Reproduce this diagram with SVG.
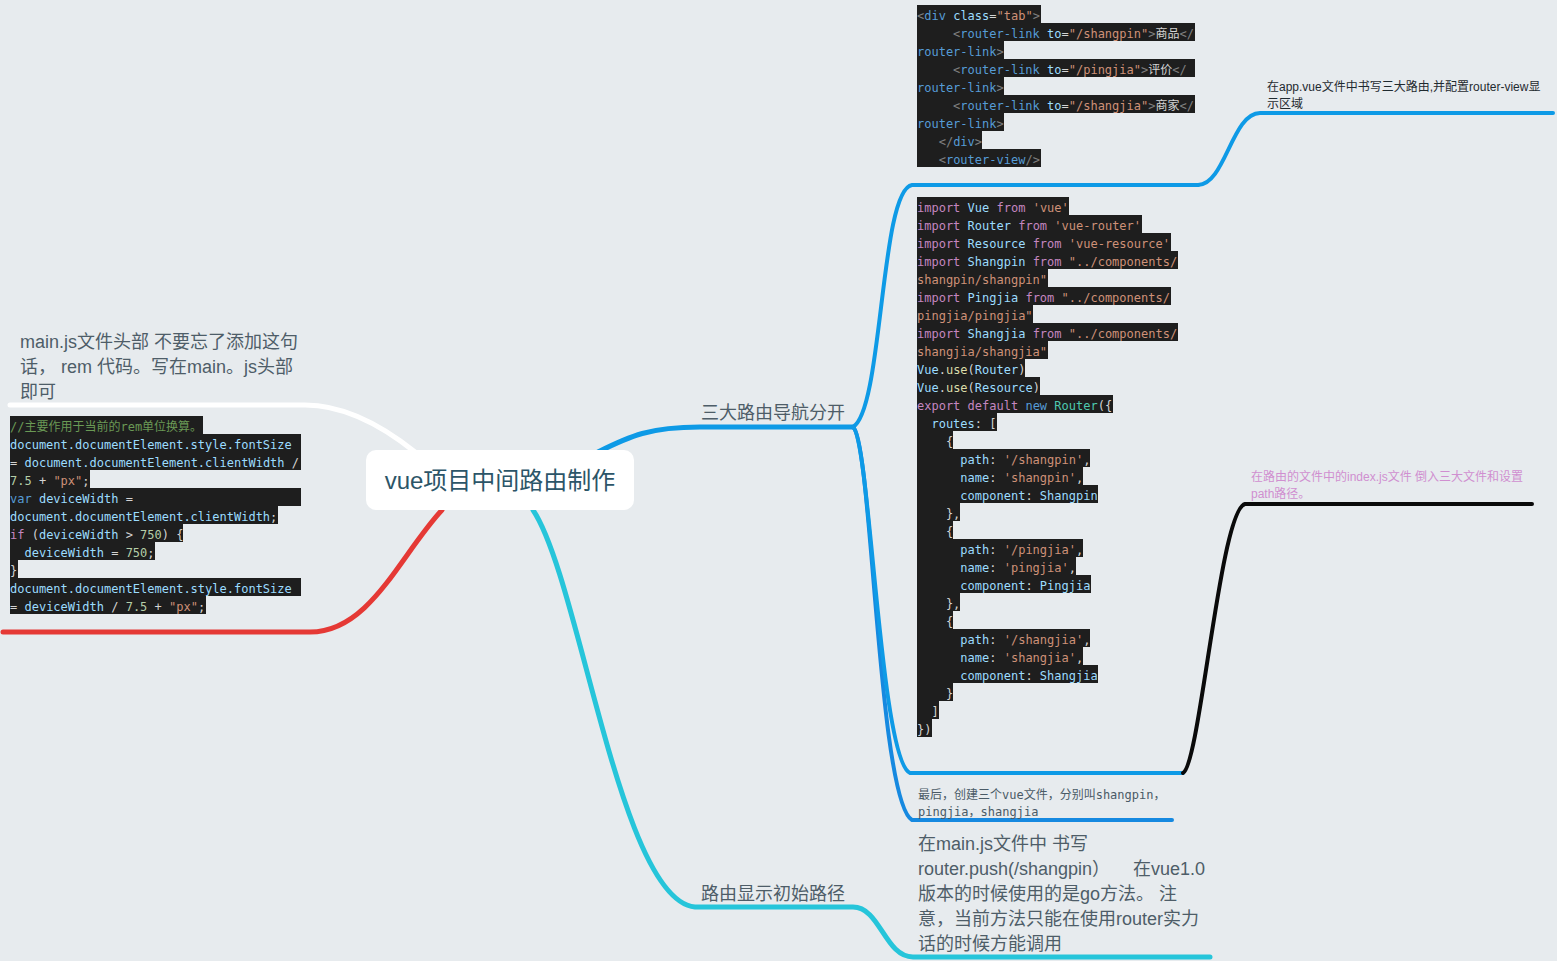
<svg xmlns="http://www.w3.org/2000/svg" width="1557" height="961" viewBox="0 0 1557 961">
<style>
.bgc{fill:#1e1e1e}
.code{font-family:"DejaVu Sans Mono","Noto Sans CJK SC",monospace;font-size:12px;fill:#d4d4d4}
.t{fill:#808080}.n{fill:#569cd6}.a{fill:#9cdcfe}.s{fill:#ce9178}.w{fill:#d4d4d4}
.k{fill:#c586c0}.f{fill:#dcdcaa}.c{fill:#4ec9b0}.m{fill:#b5cea8}.g{fill:#6a9955}
.lbl{font-family:"Liberation Sans","Noto Sans CJK SC",sans-serif;font-size:18px;fill:#4e5d68}
.small{font-family:"Liberation Sans","Noto Sans CJK SC",sans-serif;font-size:12px}
.ln{fill:none;stroke-linecap:round;stroke-linejoin:round}
</style>
<rect width="1557" height="961" fill="#e7ebee"/>

<g id="connectors">
  <path class="ln" d="M415,452 C385,428 345,405 305,405 L10,405" stroke="#ffffff" stroke-width="5"/>
  <path class="ln" d="M442,510 C400,555 370,632 310,632 L3,632" stroke="#e53935" stroke-width="5"/>
  <path class="ln" d="M598,452 C630,436 650,427 700,427 L853,427" stroke="#0e9ae6" stroke-width="5"/>
  <path class="ln" d="M853,427 C883,410 880,190 912,185 L1198,185" stroke="#0e9ae6" stroke-width="4"/>
  <path class="ln" d="M1198,185 C1225,185 1232,113 1260,113 L1553,113" stroke="#0e9ae6" stroke-width="4"/>
  <path class="ln" d="M853,427 C872,440 878,800 912,820 L1172,820" stroke="#1689e0" stroke-width="4"/>
  <path class="ln" d="M853,427 C870,440 880,760 910,773 L1183,773" stroke="#0e9ae6" stroke-width="4"/>
  <path class="ln" d="M1183,773 C1200,765 1220,510 1245,504 L1532,504" stroke="#0a0a0a" stroke-width="4"/>
  <path class="ln" d="M533,510 C580,580 620,900 695,907 L853,907 C880,907 885,957 913,957 L1210,957" stroke="#26c5da" stroke-width="5"/>
</g>

<g id="central">
  <rect x="366" y="450" width="268" height="60" rx="10" fill="#ffffff"/>
  <text x="500" y="489" text-anchor="middle" font-family="Liberation Sans,'Noto Sans CJK SC',sans-serif" font-size="24" fill="#2c5568">vue项目中间路由制作</text>
</g>

<g id="branch-routes">
  <text class="lbl" x="701" y="419">三大路由导航分开</text>
</g>

<g id="branch-initial">
  <text class="lbl" x="701" y="900">路由显示初始路径</text>
</g>

<g id="node-rem-note">
  <text class="lbl" x="20" y="348">main.js文件头部 不要忘了添加这句</text>
  <text class="lbl" x="20" y="373">话， rem 代码。写在main。js头部</text>
  <text class="lbl" x="20" y="398">即可</text>
</g>

<g id="node-rem-code">
  <rect class="bgc" x="10" y="416" width="193" height="18"/>
  <rect class="bgc" x="10" y="434" width="291" height="18"/>
  <rect class="bgc" x="10" y="452" width="291" height="18"/>
  <rect class="bgc" x="10" y="470" width="80" height="18"/>
  <rect class="bgc" x="10" y="488" width="291" height="18"/>
  <rect class="bgc" x="10" y="506" width="268" height="18"/>
  <rect class="bgc" x="10" y="524" width="173" height="18"/>
  <rect class="bgc" x="10" y="542" width="145" height="18"/>
  <rect class="bgc" x="10" y="560" width="8" height="18"/>
  <rect class="bgc" x="10" y="578" width="291" height="18"/>
  <rect class="bgc" x="10" y="596" width="196" height="18"/>
  <g transform="translate(0,2)">
  <text class="code" x="10" y="429"><tspan class="g">//主要作用于当前的rem单位换算。</tspan></text>
  <text class="code" x="10" y="447"><tspan class="a">document.documentElement.style.fontSize</tspan></text>
  <text class="code" x="10" y="465"><tspan class="w">=</tspan> <tspan class="a">document.documentElement.clientWidth</tspan> <tspan class="w">/</tspan></text>
  <text class="code" x="10" y="483"><tspan class="m">7.5</tspan> <tspan class="w">+</tspan> <tspan class="s">"px"</tspan><tspan class="w">;</tspan></text>
  <text class="code" x="10" y="501"><tspan class="n">var</tspan> <tspan class="a">deviceWidth</tspan> <tspan class="w">=</tspan></text>
  <text class="code" x="10" y="519"><tspan class="a">document.documentElement.clientWidth</tspan><tspan class="w">;</tspan></text>
  <text class="code" x="10" y="537"><tspan class="k">if</tspan> <tspan class="w">(</tspan><tspan class="a">deviceWidth</tspan> <tspan class="w">&gt;</tspan> <tspan class="m">750</tspan><tspan class="w">) {</tspan></text>
  <text class="code" x="24.45" y="555"><tspan class="a">deviceWidth</tspan> <tspan class="w">=</tspan> <tspan class="m">750</tspan><tspan class="w">;</tspan></text>
  <text class="code" x="10" y="573"><tspan class="w">}</tspan></text>
  <text class="code" x="10" y="591"><tspan class="a">document.documentElement.style.fontSize</tspan></text>
  <text class="code" x="10" y="609"><tspan class="w">=</tspan> <tspan class="a">deviceWidth</tspan> <tspan class="w">/</tspan> <tspan class="m">7.5</tspan> <tspan class="w">+</tspan> <tspan class="s">"px"</tspan><tspan class="w">;</tspan></text>
  </g>
</g>

<g id="node-app-code">
  <rect class="bgc" x="917" y="5" width="124" height="18"/>
  <rect class="bgc" x="917" y="23" width="278" height="18"/>
  <rect class="bgc" x="917" y="41" width="87" height="18"/>
  <rect class="bgc" x="917" y="59" width="278" height="18"/>
  <rect class="bgc" x="917" y="77" width="87" height="18"/>
  <rect class="bgc" x="917" y="95" width="278" height="18"/>
  <rect class="bgc" x="917" y="113" width="87" height="18"/>
  <rect class="bgc" x="917" y="131" width="65" height="18"/>
  <rect class="bgc" x="917" y="149" width="124" height="18"/>
  <g transform="translate(0,2)">
  <text class="code" x="917" y="18"><tspan class="t">&lt;</tspan><tspan class="n">div</tspan> <tspan class="a">class</tspan><tspan class="w">=</tspan><tspan class="s">"tab"</tspan><tspan class="t">&gt;</tspan></text>
  <text class="code" x="953.1" y="36"><tspan class="t">&lt;</tspan><tspan class="n">router-link</tspan> <tspan class="a">to</tspan><tspan class="w">=</tspan><tspan class="s">"/shangpin"</tspan><tspan class="t">&gt;</tspan><tspan class="w">商品</tspan><tspan class="t">&lt;/</tspan></text>
  <text class="code" x="917" y="54"><tspan class="n">router-link</tspan><tspan class="t">&gt;</tspan></text>
  <text class="code" x="953.1" y="72"><tspan class="t">&lt;</tspan><tspan class="n">router-link</tspan> <tspan class="a">to</tspan><tspan class="w">=</tspan><tspan class="s">"/pingjia"</tspan><tspan class="t">&gt;</tspan><tspan class="w">评价</tspan><tspan class="t">&lt;/</tspan></text>
  <text class="code" x="917" y="90"><tspan class="n">router-link</tspan><tspan class="t">&gt;</tspan></text>
  <text class="code" x="953.1" y="108"><tspan class="t">&lt;</tspan><tspan class="n">router-link</tspan> <tspan class="a">to</tspan><tspan class="w">=</tspan><tspan class="s">"/shangjia"</tspan><tspan class="t">&gt;</tspan><tspan class="w">商家</tspan><tspan class="t">&lt;/</tspan></text>
  <text class="code" x="917" y="126"><tspan class="n">router-link</tspan><tspan class="t">&gt;</tspan></text>
  <text class="code" x="938.7" y="144"><tspan class="t">&lt;/</tspan><tspan class="n">div</tspan><tspan class="t">&gt;</tspan></text>
  <text class="code" x="938.7" y="162"><tspan class="t">&lt;</tspan><tspan class="n">router-view</tspan><tspan class="t">/&gt;</tspan></text>
  </g>
</g>

<g id="node-app-note">
  <text class="small" x="1267" y="91" fill="#1f2a30">在app.vue文件中书写三大路由,并配置router-view显</text>
  <text class="small" x="1267" y="108" fill="#1f2a30">示区域</text>
</g>

<g id="node-index-code">
  <rect class="bgc" x="917" y="197" width="152" height="18"/>
  <rect class="bgc" x="917" y="215" width="225" height="18"/>
  <rect class="bgc" x="917" y="233" width="254" height="18"/>
  <rect class="bgc" x="917" y="251" width="261" height="18"/>
  <rect class="bgc" x="917" y="269" width="131" height="18"/>
  <rect class="bgc" x="917" y="287" width="254" height="18"/>
  <rect class="bgc" x="917" y="305" width="116" height="18"/>
  <rect class="bgc" x="917" y="323" width="261" height="18"/>
  <rect class="bgc" x="917" y="341" width="131" height="18"/>
  <rect class="bgc" x="917" y="359" width="108" height="18"/>
  <rect class="bgc" x="917" y="377" width="123" height="18"/>
  <rect class="bgc" x="917" y="395" width="196" height="18"/>
  <rect class="bgc" x="917" y="413" width="80" height="18"/>
  <rect class="bgc" x="917" y="431" width="36" height="18"/>
  <rect class="bgc" x="917" y="449" width="173" height="18"/>
  <rect class="bgc" x="917" y="467" width="166" height="18"/>
  <rect class="bgc" x="917" y="485" width="181" height="18"/>
  <rect class="bgc" x="917" y="503" width="43" height="18"/>
  <rect class="bgc" x="917" y="521" width="36" height="18"/>
  <rect class="bgc" x="917" y="539" width="166" height="18"/>
  <rect class="bgc" x="917" y="557" width="159" height="18"/>
  <rect class="bgc" x="917" y="575" width="174" height="18"/>
  <rect class="bgc" x="917" y="593" width="43" height="18"/>
  <rect class="bgc" x="917" y="611" width="36" height="18"/>
  <rect class="bgc" x="917" y="629" width="173" height="18"/>
  <rect class="bgc" x="917" y="647" width="166" height="18"/>
  <rect class="bgc" x="917" y="665" width="181" height="18"/>
  <rect class="bgc" x="917" y="683" width="36" height="18"/>
  <rect class="bgc" x="917" y="701" width="22" height="18"/>
  <rect class="bgc" x="917" y="719" width="15" height="18"/>
  <g transform="translate(0,2)">
  <text class="code" x="917" y="210"><tspan class="k">import</tspan> <tspan class="a">Vue</tspan> <tspan class="k">from</tspan> <tspan class="s">'vue'</tspan></text>
  <text class="code" x="917" y="228"><tspan class="k">import</tspan> <tspan class="a">Router</tspan> <tspan class="k">from</tspan> <tspan class="s">'vue-router'</tspan></text>
  <text class="code" x="917" y="246"><tspan class="k">import</tspan> <tspan class="a">Resource</tspan> <tspan class="k">from</tspan> <tspan class="s">'vue-resource'</tspan></text>
  <text class="code" x="917" y="264"><tspan class="k">import</tspan> <tspan class="a">Shangpin</tspan> <tspan class="k">from</tspan> <tspan class="s">"../components/</tspan></text>
  <text class="code" x="917" y="282"><tspan class="s">shangpin/shangpin"</tspan></text>
  <text class="code" x="917" y="300"><tspan class="k">import</tspan> <tspan class="a">Pingjia</tspan> <tspan class="k">from</tspan> <tspan class="s">"../components/</tspan></text>
  <text class="code" x="917" y="318"><tspan class="s">pingjia/pingjia"</tspan></text>
  <text class="code" x="917" y="336"><tspan class="k">import</tspan> <tspan class="a">Shangjia</tspan> <tspan class="k">from</tspan> <tspan class="s">"../components/</tspan></text>
  <text class="code" x="917" y="354"><tspan class="s">shangjia/shangjia"</tspan></text>
  <text class="code" x="917" y="372"><tspan class="a">Vue</tspan><tspan class="w">.</tspan><tspan class="f">use</tspan><tspan class="w">(</tspan><tspan class="a">Router</tspan><tspan class="w">)</tspan></text>
  <text class="code" x="917" y="390"><tspan class="a">Vue</tspan><tspan class="w">.</tspan><tspan class="f">use</tspan><tspan class="w">(</tspan><tspan class="a">Resource</tspan><tspan class="w">)</tspan></text>
  <text class="code" x="917" y="408"><tspan class="k">export</tspan> <tspan class="k">default</tspan> <tspan class="n">new</tspan> <tspan class="c">Router</tspan><tspan class="w">({</tspan></text>
  <text class="code" x="931.45" y="426"><tspan class="a">routes</tspan><tspan class="w">: [</tspan></text>
  <text class="code" x="945.9" y="444"><tspan class="w">{</tspan></text>
  <text class="code" x="960.35" y="462"><tspan class="a">path</tspan><tspan class="w">:</tspan> <tspan class="s">'/shangpin'</tspan><tspan class="w">,</tspan></text>
  <text class="code" x="960.35" y="480"><tspan class="a">name</tspan><tspan class="w">:</tspan> <tspan class="s">'shangpin'</tspan><tspan class="w">,</tspan></text>
  <text class="code" x="960.35" y="498"><tspan class="a">component</tspan><tspan class="w">:</tspan> <tspan class="a">Shangpin</tspan></text>
  <text class="code" x="945.9" y="516"><tspan class="w">},</tspan></text>
  <text class="code" x="945.9" y="534"><tspan class="w">{</tspan></text>
  <text class="code" x="960.35" y="552"><tspan class="a">path</tspan><tspan class="w">:</tspan> <tspan class="s">'/pingjia'</tspan><tspan class="w">,</tspan></text>
  <text class="code" x="960.35" y="570"><tspan class="a">name</tspan><tspan class="w">:</tspan> <tspan class="s">'pingjia'</tspan><tspan class="w">,</tspan></text>
  <text class="code" x="960.35" y="588"><tspan class="a">component</tspan><tspan class="w">:</tspan> <tspan class="a">Pingjia</tspan></text>
  <text class="code" x="945.9" y="606"><tspan class="w">},</tspan></text>
  <text class="code" x="945.9" y="624"><tspan class="w">{</tspan></text>
  <text class="code" x="960.35" y="642"><tspan class="a">path</tspan><tspan class="w">:</tspan> <tspan class="s">'/shangjia'</tspan><tspan class="w">,</tspan></text>
  <text class="code" x="960.35" y="660"><tspan class="a">name</tspan><tspan class="w">:</tspan> <tspan class="s">'shangjia'</tspan><tspan class="w">,</tspan></text>
  <text class="code" x="960.35" y="678"><tspan class="a">component</tspan><tspan class="w">:</tspan> <tspan class="a">Shangjia</tspan></text>
  <text class="code" x="945.9" y="696"><tspan class="w">}</tspan></text>
  <text class="code" x="931.45" y="714"><tspan class="w">]</tspan></text>
  <text class="code" x="917" y="732"><tspan class="w">})</tspan></text>
  </g>
</g>

<g id="node-index-note">
  <text class="small" x="1251" y="481" fill="#d08fd0">在路由的文件中的index.js文件 倒入三大文件和设置</text>
  <text class="small" x="1251" y="498" fill="#d08fd0">path路径。</text>
</g>

<g id="node-create-files">
  <text class="code" x="918" y="799" style="fill:#4a5a66">最后，创建三个vue文件，分别叫shangpin，</text>
  <text class="code" x="918" y="816" style="fill:#4a5a66">pingjia，shangjia</text>
</g>

<g id="node-push-note">
  <text class="lbl" x="918" y="850">在main.js文件中 书写</text>
  <text class="lbl" x="918" y="875">router.push(/shangpin）<tspan x="1133">在vue1.0</tspan></text>
  <text class="lbl" x="918" y="900">版本的时候使用的是go方法。 注</text>
  <text class="lbl" x="918" y="925">意，当前方法只能在使用router实力</text>
  <text class="lbl" x="918" y="950">话的时候方能调用</text>
</g>
</svg>
